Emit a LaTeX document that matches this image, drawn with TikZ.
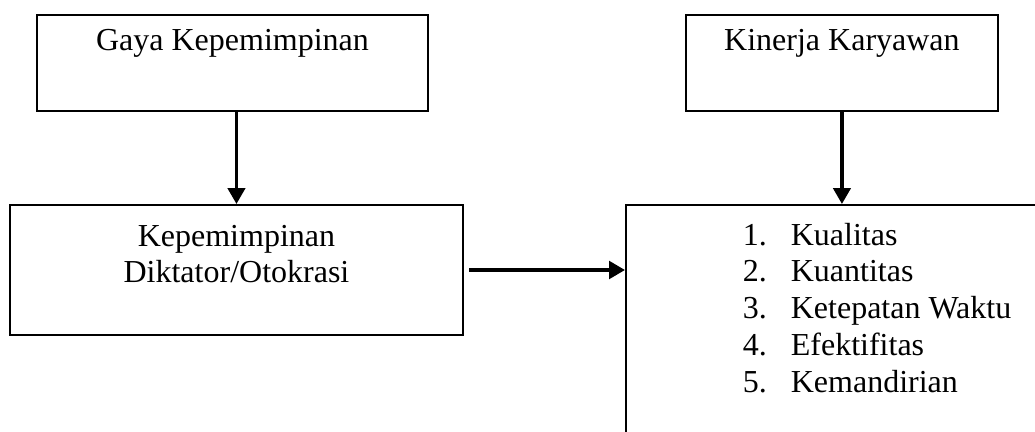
\documentclass[tikz,border=0pt]{standalone}
\usepackage{fontspec}
\setmainfont{Liberation Serif}
\usepackage{tikz}
\usetikzlibrary{arrows.meta,positioning}
\tikzset{
  kotak/.style={rectangle, draw=black, line width=0.75pt, inner sep=0pt,
                align=center, font=\fontsize{12}{13.8}\selectfont},
  panah/.style={-{Triangle[length=6pt,width=6.5pt]}, line width=1.3pt, draw=black},
}
\newcommand{\butir}[2]{\makebox[18pt][l]{#1.}#2}

\begin{document}
\begin{tikzpicture}[x=0.375pt, y=-0.375pt]
        \useasboundingbox (0,0) rectangle (1035,431);
        \node[kotak, anchor=north west, minimum width=146.6pt, minimum height=36pt,
              text height=13.5pt, text depth=22.5pt] (gaya) at (36,14) {Gaya Kepemimpinan};
        \node[kotak, minimum width=117pt, minimum height=36pt,
              text height=13.5pt, text depth=22.5pt, right=96pt of gaya] (kinerja) {Kinerja Karyawan};
        \node[kotak, text width=169.9pt, minimum height=48.75pt,
              text height=15.4pt, text depth=33.35pt, below=34.5pt of gaya, xshift=1.5pt] (diktator)
          {Kepemimpinan\\ Diktator/Otokrasi};
        \node[kotak, minimum width=188.25pt, minimum height=93.75pt,
              text height=15pt, text depth=78.75pt,
              right=60.4pt of diktator.north east, anchor=north west] (indikator)
          {\begin{tabular}[t]{@{}l@{}}
             \butir{1}{Kualitas}\\
             \butir{2}{Kuantitas}\\
             \butir{3}{Ketepatan Waktu}\\
             \butir{4}{Efektifitas}\\
             \butir{5}{Kemandirian}
           \end{tabular}};
        \draw[panah] (diktator.north |- gaya.south) -- (diktator.north);
        \draw[panah] (kinerja.south) -- (kinerja.south |- indikator.north);
        \draw[panah, line width=1.5pt] ([xshift=1.9pt]diktator.east) -- (diktator.east -| indikator.west);
      \end{tikzpicture}
\end{document}
